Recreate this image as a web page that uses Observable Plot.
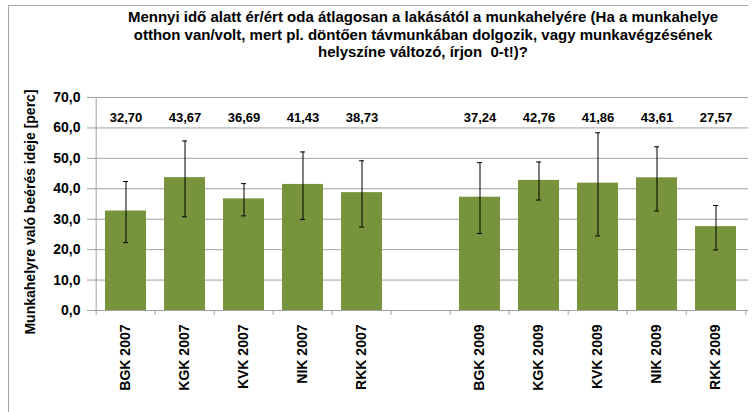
<!DOCTYPE html>
<html>
<head>
<meta charset="utf-8">
<script src="https://cdn.jsdelivr.net/npm/d3@7"></script>
<script src="https://cdn.jsdelivr.net/npm/@observablehq/plot@0.6"></script>
<style>
  html, body { margin: 0; padding: 0; background: #fff; }
  #wrap { position: relative; width: 756px; height: 412px; overflow: hidden; font-family: "Liberation Sans", Arial, sans-serif; }
  #frame { position: absolute; left: 8px; top: 5px; width: 740px; height: 420px; border-left: 1px solid #a6a6a6; border-top: 1px solid #a6a6a6; box-sizing: border-box; }
  #title { position: absolute; left: 60px; width: 726px; top: 8px; text-align: center; font-weight: bold; font-size: 15px; line-height: 17.5px; color: #000; }
  #chart { position: absolute; left: 0; top: 0; }
</style>
</head>
<body>
<div id="wrap">
  <div id="frame"></div>
  <div id="chart"></div>
  <div id="title">Mennyi idő alatt ér/ért oda átlagosan a lakásától a munkahelyére (Ha a munkahelye<br>otthon van/volt, mert pl. döntően távmunkában dolgozik, vagy munkavégzésének<br>helyszíne változó, írjon&nbsp; 0-t!)?</div>
</div>
<script>
const categories = ["BGK 2007","KGK 2007","KVK 2007","NIK 2007","RKK 2007","BGK 2009","KGK 2009","KVK 2009","NIK 2009","RKK 2009"];
const values = [32.70, 43.67, 36.69, 41.43, 38.73, 37.24, 42.76, 41.86, 43.61, 27.57];
const low    = [22.3, 30.8, 31.1, 29.9, 27.4, 25.3, 36.3, 24.5, 32.7, 19.9];
const high   = [42.4, 55.7, 41.7, 52.1, 49.2, 48.6, 48.8, 58.4, 53.8, 34.5];
const yTicks = [0, 10, 20, 30, 40, 50, 60, 70];
const gapKey = " ";
const domain = [...categories.slice(0, 5), gapKey, ...categories.slice(5)];
const yLabel = "Munkahelyre való beérés ideje [perc]";

const data = categories.map((c, i) => ({cat: c, value: values[i], low: low[i], high: high[i]}));
const fmt = d => d.toFixed(2).replace(".", ",");
const fmtY = d => d.toFixed(1).replace(".", ",");

const W = 756, H = 412, mL = 92, mR = 8, mT = 97, mB = 102;
const halfStep = (W - mL - mR) / domain.length / 2;

const chart = Plot.plot({
  width: W, height: H,
  marginLeft: mL, marginRight: mR, marginTop: mT, marginBottom: mB,
  style: {fontFamily: "'Liberation Sans', Arial, sans-serif", fontSize: "13px", fontWeight: "bold", color: "#000", background: "transparent", overflow: "visible"},
  x: {domain, paddingInner: 0.31, paddingOuter: 0.155, label: null},
  y: {domain: [0, 70], label: null},
  marks: [
    Plot.gridY(yTicks, {stroke: "#a0a0a0", strokeOpacity: 1}),
    Plot.ruleX([domain[0]], {x: d => d, dx: -halfStep, stroke: "#a0a0a0"}),
    Plot.barY(data, {x: "cat", y: "value", fill: "#77933c"}),
    Plot.ruleX(data, {x: "cat", y1: "low", y2: "high", stroke: "#000", strokeWidth: 1}),
    Plot.tickY(data, {x: "cat", y: "low", stroke: "#000", insetLeft: 18, insetRight: 18}),
    Plot.tickY(data, {x: "cat", y: "high", stroke: "#000", insetLeft: 18, insetRight: 18}),
    Plot.ruleY([0], {stroke: "#a0a0a0"}),
    Plot.ruleX(domain, {x: d => d, y1: 0, y2: 0, insetBottom: -5, dx: -halfStep, stroke: "#a0a0a0"}),
    Plot.ruleX([domain[domain.length - 1]], {x: d => d, y1: 0, y2: 0, insetBottom: -5, dx: halfStep, stroke: "#a0a0a0"}),
    Plot.axisY(yTicks, {tickFormat: fmtY, tickSize: 5, tickPadding: 7, stroke: "#a0a0a0", fontWeight: "bold", fontSize: 14, label: null}),
    Plot.axisX(categories, {tickSize: 0, tickPadding: 14, tickRotate: -90, fontWeight: "bold", fontSize: 14, label: null}),
    Plot.text(data, {x: "cat", frameAnchor: "top", dy: 15, text: d => fmt(d.value), fontWeight: "bold", fontSize: 13, fill: "#000"}),
    Plot.text([yLabel], {frameAnchor: "left", textAnchor: "middle", dx: -62, dy: 8, rotate: -90, text: d => d, fontWeight: "bold", fontSize: 14, fill: "#000"})
  ]
});
document.getElementById("chart").appendChild(chart);
</script>
</body>
</html>
